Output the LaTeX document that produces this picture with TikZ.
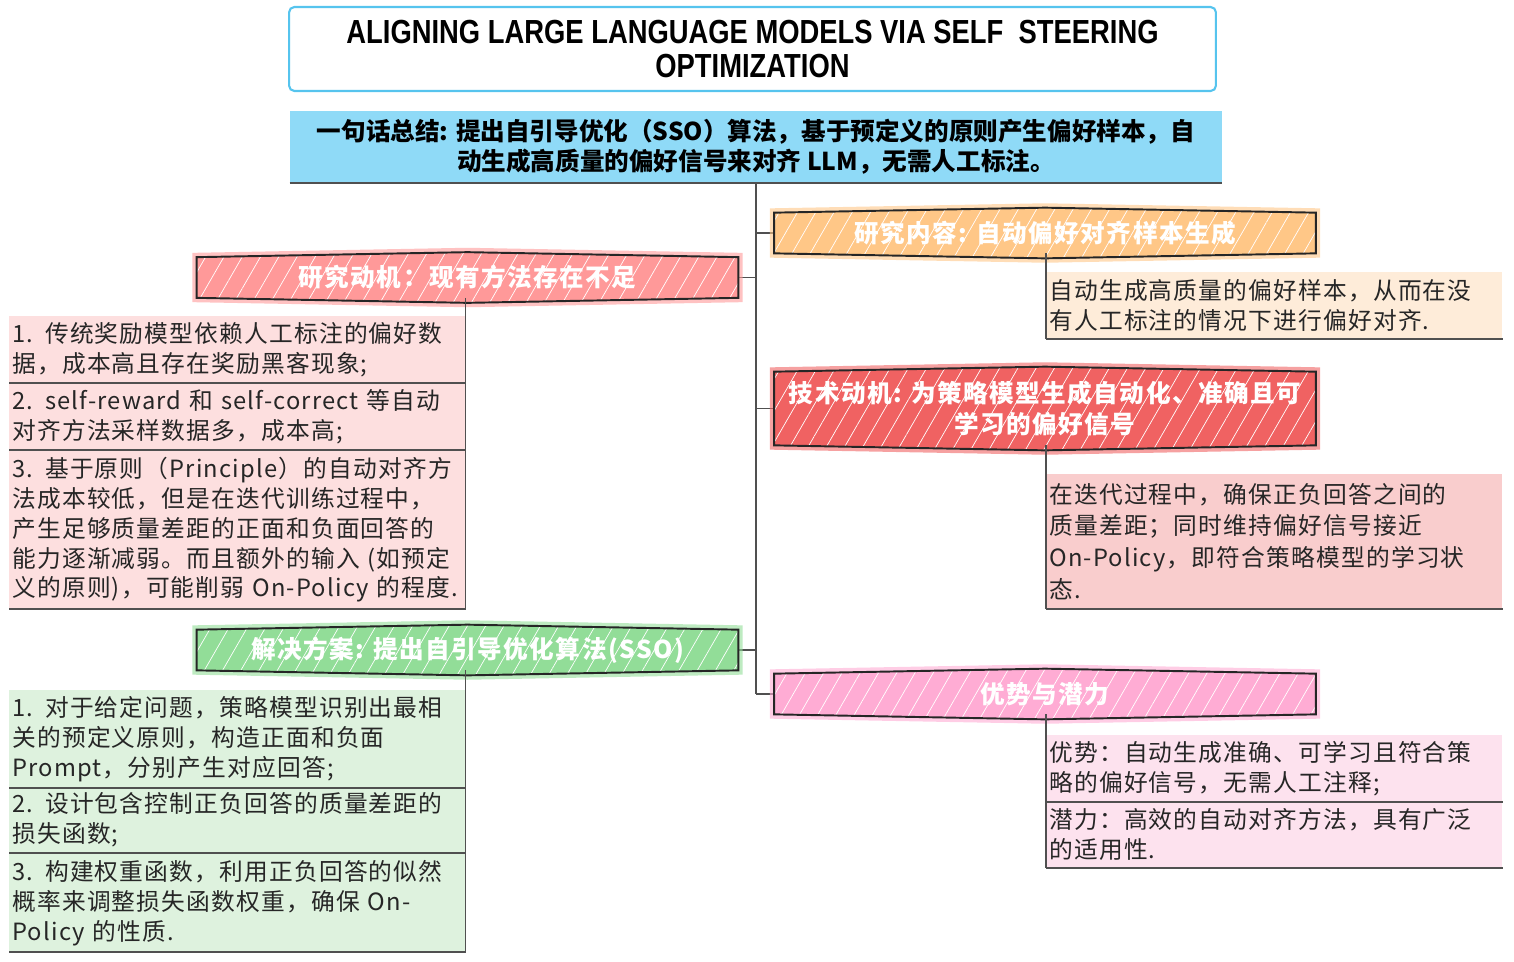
\documentclass[tikz,border=0pt]{standalone}
\usepackage{fontspec}
\setmainfont{Noto Sans CJK SC}
\newfontfamily\titlefont[FakeStretch=0.82]{Liberation Sans}
\newfontfamily\leaffont[LetterSpace=5]{Noto Sans CJK SC}
\newfontfamily\hdrfont[LetterSpace=6]{Noto Sans CJK SC}
\usetikzlibrary{positioning,backgrounds,patterns.meta}
\definecolor{titleblue}{RGB}{86,196,238}
\definecolor{sumblue}{RGB}{143,218,247}
\definecolor{motred}{RGB}{255,153,153}
\definecolor{motleaf}{RGB}{253,223,223}
\definecolor{contorange}{RGB}{255,199,135}
\definecolor{contleaf}{RGB}{254,236,217}
\definecolor{techred}{RGB}{240,98,98}
\definecolor{techleaf}{RGB}{249,205,205}
\definecolor{solgreen}{RGB}{146,221,152}
\definecolor{solleaf}{RGB}{222,242,222}
\definecolor{advpink}{RGB}{255,172,212}
\definecolor{advleaf}{RGB}{253,226,238}
\definecolor{linegray}{RGB}{80,80,80}

\begin{document}
\begin{tikzpicture}[x=0.02cm,y=-0.02cm,
		titlebox/.style={draw=titleblue,line width=1.2pt,rounded corners=3pt,fill=white,
			minimum width=18.54cm,minimum height=1.68cm,align=center,
			font=\titlefont\bfseries\fontsize{19}{19.5}\selectfont},
		sumbox/.style={fill=sumblue,minimum width=18.64cm,minimum height=1.44cm,
			align=center,font=\bfseries\fontsize{14}{17}\selectfont},
		hdr/.style={minimum width=10.82cm,minimum height=0.8cm,align=center,
			text=white,font=\hdrfont\bfseries\fontsize{14}{18}\selectfont},
		leaf/.style={anchor=north west,text width=9cm,inner xsep=0.06cm,align=left,
			text=black!85,font=\leaffont\fontsize{13.5}{17}\selectfont},
		trunk/.style={draw=linegray,line width=0.8pt},
		leafline/.style={draw=linegray,line width=1pt}]
	
	\useasboundingbox (0,0) rectangle (1514,961);
	
	% title and summary
	\node[titlebox] (title) at (752.5,49)
	{ALIGNING LARGE LANGUAGE MODELS VIA SELF\ \ STEERING\\OPTIMIZATION};
	\node[sumbox] (sum) at (756,146.5)
	{一句话总结: 提出自引导优化（SSO）算法，基于预定义的原则产生偏好样本，自\\动生成高质量的偏好信号来对齐 LLM，无需人工标注。};
	\draw[draw=linegray,line width=1.5pt] (sum.south west) -- (sum.south east);
	
	% main branches
	\node[hdr] (mot)  at (467.5,277.5) {研究动机：现有方法存在不足};
	\node[hdr] (cont) at (1045,233)    {研究内容: 自动偏好对齐样本生成};
	\node[hdr,minimum height=1.46cm] (tech) at (1045,408.5)
	{技术动机: 为策略模型生成自动化、准确且可\\学习的偏好信号};
	\node[hdr] (sol)  at (467.5,650)   {解决方案: 提出自引导优化算法(SSO)};
	\node[hdr] (adv)  at (1045,694)    {优势与潜力};
	
	% leaves
	\node[leaf,fill=motleaf,minimum height=1.3cm] (mot1) at (9,316)
	{1. 传统奖励模型依赖人工标注的偏好数\\据，成本高且存在奖励黑客现象;};
	\node[leaf,fill=motleaf,minimum height=1.32cm] (mot2) at (9,383)
	{2. self-reward 和 self-correct 等自动\\对齐方法采样数据多，成本高;};
	\node[leaf,fill=motleaf,minimum height=3.1cm] (mot3) at (9,451)
	{3. 基于原则（Principle）的自动对齐方\\法成本较低，但是在迭代训练过程中，\\产生足够质量差距的正面和负面回答的\\能力逐渐减弱。而且额外的输入 (如预定\\义的原则)，可能削弱 On-Policy 的程度.};
	
	\node[leaf,fill=contleaf,minimum height=1.32cm] (cont1) at (1046,272)
	{自动生成高质量的偏好样本，从而在没\\有人工标注的情况下进行偏好对齐.};
	
	\node[leaf,fill=techleaf,minimum height=2.68cm,font=\leaffont\fontsize{13.5}{18}\selectfont] (tech1) at (1046,474)
	{在迭代过程中，确保正负回答之间的\\质量差距；同时维持偏好信号接近\\On-Policy，即符合策略模型的学习状\\态.};
	
	\node[leaf,fill=solleaf,minimum height=1.9cm] (sol1) at (9,690)
	{1. 对于给定问题，策略模型识别出最相\\关的预定义原则，构造正面和负面\\Prompt，分别产生对应回答;};
	\node[leaf,fill=solleaf,minimum height=1.32cm] (sol2) at (9,786)
	{2. 设计包含控制正负回答的质量差距的\\损失函数;};
	\node[leaf,fill=solleaf,minimum height=1.92cm] (sol3) at (9,854)
	{3. 构建权重函数，利用正负回答的似然\\概率来调整损失函数权重，确保 On-\\Policy 的性质.};
	
	\node[leaf,fill=advleaf,minimum height=1.3cm] (adv1) at (1046,735)
	{优势：自动生成准确、可学习且符合策\\略的偏好信号，无需人工注释;};
	\node[leaf,fill=advleaf,minimum height=1.32cm] (adv2) at (1046,801)
	{潜力：高效的自动对齐方法，具有广泛\\的适用性.};
	
	% connectors and branch shapes
	\begin{scope}[on background layer]
		\draw[trunk] (sum.south) -- (sum.south |- adv.west);
		\draw[trunk] (mot.east) -- (mot.east -| sum.south);
		\draw[trunk] (sol.east) -- (sol.east -| sum.south);
		\draw[trunk] (cont.west) -- (cont.west -| sum.south);
		\draw[trunk] (tech.west) -- (tech.west -| sum.south);
		\draw[trunk] (adv.west) -- (adv.west -| sum.south);
		\foreach \n/\c in {mot/motred,cont/contorange,tech/techred,sol/solgreen,adv/advpink}{
			\path[fill=\c,preaction={draw=\c,line width=5pt,draw opacity=0.6},
			postaction={pattern={Lines[angle=60,distance=9pt,line width=0.4pt]},pattern color=white,fill opacity=0.45},
			postaction={draw=black!85,line width=1.1pt}]
			(\n.north west) -- ([yshift=0.1cm]\n.north) -- (\n.north east) -- (\n.south east)
			-- ([yshift=-0.1cm]\n.south) -- (\n.south west) -- cycle;
		}
	\end{scope}
	
	\draw[leafline] (mot.south -| mot3.east) -- (mot3.south east);
	\draw[leafline] (sol.south -| sol3.east) -- (sol3.south east);
	\draw[leafline] (cont.south -| cont1.west) -- (cont1.south west);
	\draw[leafline] (tech.south -| tech1.west) -- (tech1.south west);
	\draw[leafline] (adv.south -| adv2.west) -- (adv2.south west);
	\foreach \l in {mot1,mot2,mot3,sol1,sol2,sol3,cont1,tech1,adv1,adv2}
	\draw[leafline] (\l.south west) -- (\l.south east);
	
\end{tikzpicture}
\end{document}
